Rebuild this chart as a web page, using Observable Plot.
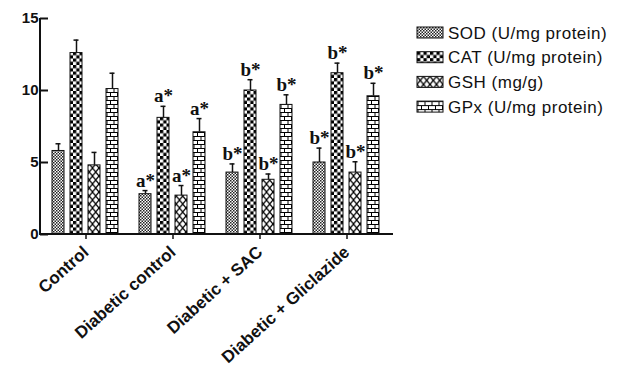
<!DOCTYPE html>
<html><head><meta charset="utf-8">
<script src="https://cdn.jsdelivr.net/npm/d3@7"></script>
<script src="https://cdn.jsdelivr.net/npm/@observablehq/plot@0.6"></script>
<style>
body{margin:0;background:#fff;}
#chart svg{display:block;}
</style></head><body><div id="chart"></div>
<script>
const categories = ["Control", "Diabetic control", "Diabetic + SAC", "Diabetic + Gliclazide"];
const seriesKeys = ["SOD", "CAT", "GSH", "GPx"];
const seriesNames = ["SOD (U/mg protein)", "CAT (U/mg protein)", "GSH (mg/g)", "GPx (U/mg protein)"];
const sodMean = [5.8, 2.8, 4.3, 5.0];
const sodErr  = [0.5, 0.25, 0.6, 1.0];
const catMean = [12.6, 8.1, 10.0, 11.2];
const catErr  = [0.9, 0.8, 0.75, 0.7];
const gshMean = [4.8, 2.7, 3.8, 4.3];
const gshErr  = [0.9, 0.7, 0.4, 0.75];
const gpxMean = [10.1, 7.1, 9.0, 9.6];
const gpxErr  = [1.1, 0.95, 0.7, 0.9];
const sigLabels = ["", "a*", "b*", "b*"];
const yTicks = [0, 5, 10, 15];

const means = [sodMean, catMean, gshMean, gpxMean];
const errs = [sodErr, catErr, gshErr, gpxErr];
const rows = [];
categories.forEach((c, i) => seriesKeys.forEach((s, j) => rows.push({
  category: c, series: s, mean: means[j][i], top: means[j][i] + errs[j][i], label: sigLabels[i]
})));
const patternUrls = seriesKeys.map(s => `url(#pat-${s})`);

const ink = "#111";
const plot = Plot.plot({
  width: 620, height: 365,
  marginLeft: 40, marginRight: 227, marginTop: 18, marginBottom: 131,
  style: {fontFamily: "'Liberation Sans', Arial, sans-serif", color: ink, background: "#fff"},
  fx: {domain: categories, paddingInner: 0.136, paddingOuter: 0.08, label: null},
  x: {domain: seriesKeys, axis: null, paddingInner: 0.32, paddingOuter: 0.16},
  y: {domain: [0, 15], label: null},
  color: {domain: seriesKeys, range: patternUrls},
  marks: [
    Plot.axisY({ticks: yTicks, tickSize: 8, tickPadding: 2, fontSize: 15, fontWeight: "bold", strokeWidth: 2, label: null}),
    Plot.axisFx({anchor: "bottom", tickRotate: -42, tickSize: 5, tickPadding: 10, fontSize: 17, fontWeight: "bold", strokeWidth: 1.5, label: null}),
    Plot.ruleX(rows, {fx: "category", x: "series", y1: "mean", y2: "top", stroke: ink, strokeWidth: 1.5}),
    Plot.tickY(rows, {fx: "category", x: "series", y: "top", stroke: ink, strokeWidth: 1.5, insetLeft: 3.5, insetRight: 3.5}),
    Plot.barY(rows, {fx: "category", x: "series", y: "mean", fill: "series", stroke: ink, strokeWidth: 1}),
    Plot.text(rows, {fx: "category", x: "series", y: "top", text: "label", dy: -4, lineAnchor: "bottom",
      fontFamily: "'Liberation Serif', 'Times New Roman', serif", fontWeight: "bold", fontSize: 19, fill: ink})
  ]
});

document.getElementById("chart").appendChild(plot);
const svg = d3.select(plot);
const defs = svg.insert("defs", ":first-child");
function pat(id, w, h, draw) {
  const p = defs.append("pattern").attr("id", id).attr("patternUnits", "userSpaceOnUse").attr("width", w).attr("height", h);
  p.append("rect").attr("width", w).attr("height", h).attr("fill", "#fff");
  draw(p);
}
pat("pat-SOD", 3, 3, p => {
  p.append("rect").attr("x", 0).attr("y", 0).attr("width", 1.5).attr("height", 1.5).attr("fill", "#222");
  p.append("rect").attr("x", 1.5).attr("y", 1.5).attr("width", 1.5).attr("height", 1.5).attr("fill", "#222");
});
pat("pat-CAT", 6.5, 6.5, p => {
  p.append("rect").attr("x", 0).attr("y", 0).attr("width", 3.25).attr("height", 3.25).attr("fill", "#000");
  p.append("rect").attr("x", 3.25).attr("y", 3.25).attr("width", 3.25).attr("height", 3.25).attr("fill", "#000");
});
pat("pat-GSH", 6.5, 8, p => {
  p.append("path").attr("d", "M0,0L6.5,8M6.5,0L0,8").attr("stroke", "#000").attr("stroke-width", 1.3);
});
pat("pat-GPx", 7, 8, p => {
  p.append("path").attr("d", "M0,0.5H7M0,4.5H7M1,0.5V4.5M4.5,4.5V8.5").attr("stroke", "#000").attr("stroke-width", 1);
});

// axis lines derived from the scales
const ys = plot.scale("y"), fxs = plot.scale("fx");
const y0 = ys.apply(0), yTop = ys.apply(15);
svg.append("line").attr("x1", fxs.range[0]).attr("x2", fxs.range[0]).attr("y1", yTop).attr("y2", y0 + 1)
  .attr("stroke", ink).attr("stroke-width", 2);
svg.append("line").attr("x1", fxs.range[0]).attr("x2", fxs.range[1]).attr("y1", y0).attr("y2", y0)
  .attr("stroke", ink).attr("stroke-width", 2);

// legend
const lg = svg.append("g").attr("transform", "translate(417,27)").attr("text-anchor", "start");
seriesNames.forEach((name, i) => {
  const g = lg.append("g").attr("transform", `translate(0,${i * 24.7})`);
  g.append("rect").attr("width", 26).attr("height", 11).attr("fill", patternUrls[i]).attr("stroke", ink).attr("stroke-width", 1);
  g.append("text").attr("x", 31).attr("y", 11.5).text(name)
    .attr("text-anchor", "start")
    .attr("font-family", "'Liberation Sans', Arial, sans-serif").attr("font-size", 17)
    .attr("letter-spacing", 0.5).attr("fill", ink);
});
</script></body></html>
